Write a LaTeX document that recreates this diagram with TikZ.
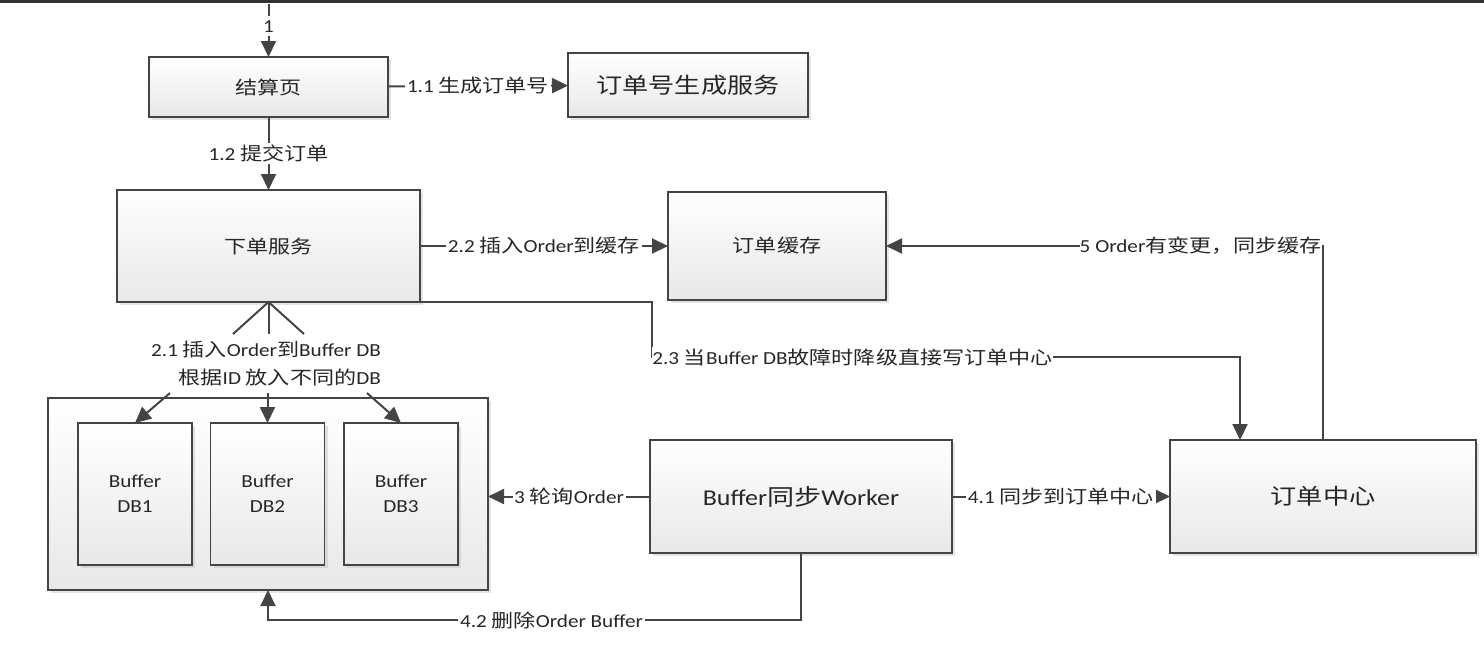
\documentclass[tikz,border=0pt]{standalone}
\usepackage{fontspec}
\setmainfont{Carlito}[FakeStretch=1.15]
\newfontfamily\zhfont{Noto Sans CJK SC}[FakeStretch=1.2]
\newcommand\zh[1]{{\zhfont #1}}
\usetikzlibrary{arrows.meta,shadows,calc}
\definecolor{edge}{HTML}{444444}
\definecolor{txt}{HTML}{262626}
\tikzset{
 box/.style={draw=edge, line width=0.9pt, top color=white, bottom color=black!9,
   drop shadow={shadow xshift=1.5pt, shadow yshift=-1.5pt, fill=black!30, opacity=0.35},
   inner sep=0pt, outer sep=0pt, text=txt, align=center},
 small/.style={font=\fontsize{9.2}{12}\selectfont},
 big/.style={font=\fontsize{10.9}{13}\selectfont},
 dbtext/.style={font=\fontsize{9.2}{12.5}\selectfont},
 lab/.style={fill=white, inner sep=0.8pt, text=txt, font=\fontsize{9.2}{14}\selectfont},
 conn/.style={draw=edge, line width=1pt, -{Triangle[length=8pt,width=7.5pt]}},
 plain/.style={draw=edge, line width=1pt},
}
\begin{document}
\begin{tikzpicture}[x=0.5pt,y=-0.5pt]
\useasboundingbox (0,0) rectangle (1484,645);
\fill[black!80] (0,0) rectangle (1484,3);

% nodes
\node[box,small,minimum width=119.5pt,minimum height=30pt] (jsy) at (268.5,87) {\zh{结算页}};
\node[box,big,minimum width=120pt,minimum height=32pt] (ddh) at (688,85) {\zh{订单号生成服务}};
\node[box,small,minimum width=151.5pt,minimum height=56pt] (xd) at (268.5,246) {\zh{下单服务}};
\node[box,small,minimum width=109pt,minimum height=54pt] (ddhc) at (777,246) {\zh{订单缓存}};
\node[box,minimum width=220pt,minimum height=96pt] (cont) at (268,494) {};
\node[box,dbtext,minimum width=57pt,minimum height=71pt] (db1) at (135,494) {Buffer\\DB1};
\node[box,dbtext,minimum width=57pt,minimum height=71pt] (db2) at (267.5,494) {Buffer\\DB2};
\node[box,dbtext,minimum width=57pt,minimum height=71pt] (db3) at (401,494) {Buffer\\DB3};
\node[box,big,font=\fontsize{11.3}{13}\selectfont,minimum width=151pt,minimum height=56.5pt] (wk) at (801,496.5) {Buffer\zh{同步}Worker};
\node[box,big,minimum width=153pt,minimum height=56.5pt] (ddzx) at (1323,496.5) {\zh{订单中心}};

% 1
\path (jsy.north) ++(0,-53) coordinate (top);
\draw[conn,dash pattern=on 6pt off 2pt] (top) -- node[lab,pos=0.42]{1} (jsy.north);
% 1.1
\draw[conn] (jsy) -- node[lab]{1.1 \zh{生成订单号}} (ddh);
% 1.2
\draw[conn] (jsy) -- node[lab]{1.2 \zh{提交订单}} (xd);
% 2.2
\draw[conn] (xd) -- node[lab]{2.2 \zh{插入}Order\zh{到缓存}} (ddhc);
% 5
\draw[conn] (ddzx.north) |- node[lab,pos=0.5,anchor=east,inner xsep=0pt]{5 Order\zh{有变更，同步缓存}} (ddhc.east);
% 2.3
\coordinate (c23a) at ($(xd.south east)+(232,0)$);
\coordinate (c23b) at ($(c23a)+(0,55)$);
\coordinate (c23c) at ($(ddzx.north west)+(70,0)$);
\draw[conn] (xd.south east) -- (c23a) -- (c23b) -- (c23b -| c23c) -- (c23c);
\node[lab,anchor=west,inner xsep=0pt] (l23) at (c23b) {2.3 \zh{当}Buffer DB\zh{故障时降级直接写订单中心}};
% 2.1
\coordinate (f1) at (233,334);
\coordinate (f2) at (268.5,334);
\coordinate (f3) at (304,334);
\draw[plain] (f1) -- (xd.south) -- (f3);
\draw[plain] (xd.south) -- (f2);
\node[lab,align=right,fill=none] (l21) at (266,364) {2.1 \zh{插入}Order\zh{到}Buffer DB\\\zh{根据}ID \zh{放入不同的}DB};
\coordinate (g1) at (170,393);
\coordinate (g2) at (267.5,393);
\coordinate (g3) at (367,393);
\draw[conn] (g1) -- (db1.north);
\draw[conn] (g2) -- (db2.north);
\draw[conn] (g3) -- (db3.north);
% 3
\draw[conn] (wk.west) -- node[lab]{3 \zh{轮询}Order} (wk.west -| cont.east);
% 4.1
\draw[conn] (wk) -- node[lab]{4.1 \zh{同步到订单中心}} (ddzx);
% 4.2
\draw[conn] (wk.south) -- ++(0,67) -| node[lab,pos=0.234]{4.2 \zh{删除}Order Buffer} (cont.south);
\end{tikzpicture}
\end{document}
